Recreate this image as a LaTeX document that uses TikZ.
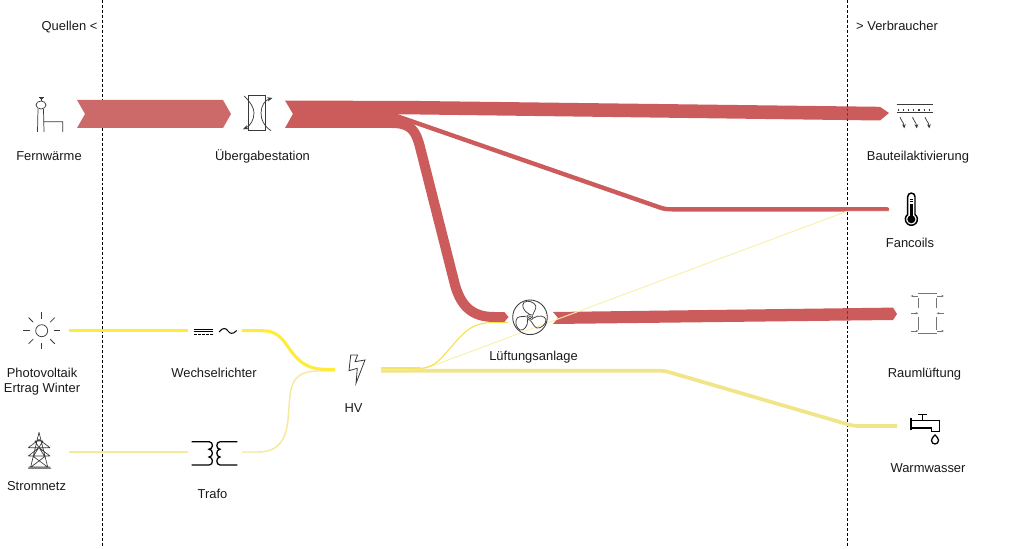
\documentclass[tikz,border=0pt]{standalone}
\usepackage{fontspec}
\setmainfont{Liberation Sans}
\usetikzlibrary{arrows.meta,calc}
\definecolor{heatA}{HTML}{CC6A6A}
\definecolor{heatB}{HTML}{CC5C5C}
\definecolor{heatC}{HTML}{BF3333}
\definecolor{sunY}{HTML}{FFEC3A}
\definecolor{gridY}{HTML}{F5EA9C}
\definecolor{mixY}{HTML}{F1E58A}
\definecolor{thinY}{HTML}{F6E04E}
\definecolor{faintY}{HTML}{F9F0A8}
\definecolor{icon}{HTML}{3A3A3A}
\tikzset{
  lbl/.style={font=\fontsize{9.7pt}{11.25pt}\selectfont,text=black!90,align=center,inner sep=0pt},
  lblb/.style={lbl,anchor=base},
  border/.style={draw=black,line width=0.7pt,dash pattern=on 2.2pt off 1.5pt},
  icn/.style={draw=icon,line width=0.55pt,line join=miter},
  icb/.style={draw=black,line width=0.95pt},
  flowline/.style={line cap=butt,line join=round}
}
\begin{document}
\begin{tikzpicture}[x=0.75pt,y=-0.75pt]
\useasboundingbox (0,0) rectangle (1024,549);

% coordinates
\coordinate (bq1) at (102.5,0); \coordinate (bq2) at (102.5,547);
\coordinate (bv1) at (847,0); \coordinate (bv2) at (847,547);
\coordinate (pvout) at (69,330.7); \coordinate (wrin) at (188,330.7);
\coordinate (wrout) at (242,330.7); \coordinate (hvin) at (335,369.3);
\coordinate (snout) at (69,452); \coordinate (trin) at (188,452);
\coordinate (trout) at (242,452); \coordinate (hvin2) at (335,371);
\coordinate (hvout) at (381,370.7); \coordinate (wwin) at (897,426);
\coordinate (lfin) at (508,322.6); \coordinate (fcin) at (889,211.3);
\coordinate (ubout) at (392,123); \coordinate (lfheat) at (503,317);
\coordinate (ubout2) at (395,115.5); \coordinate (fcheat) at (887,209.3);

\draw[border] (bq1) -- (bq2);
\draw[border] (bv1) -- (bv2);

% heat bands
\fill[heatA] (77,100) -- (223,100) -- (231,114) -- (223,128) -- (77,128) -- (85,114) -- cycle;
\fill[heatC,opacity=.8] (285,100.5) -- (420,101) -- (880,106.8) -- (889,113) -- (880,120.5) -- (420,114.5) -- (293,114) -- cycle;
\fill[heatB] (293,113.8) -- (396,113.8) -- (396,128) -- (285,128) -- cycle;
\draw[heatB,line width=7.5pt,flowline] (ubout) .. controls (412,123) and (416,132) .. (420,147) -- (455,285) .. controls (461,306) and (472,317) .. (494,317) -- (lfheat);
\fill[heatB] (500,312.2) -- (504.5,312.2) -- (508.5,317) -- (504.5,321.8) -- (500,321.8) -- cycle;
\draw[heatB,line width=3.3pt,line cap=round,line join=round] (ubout2) -- (657,206.5) .. controls (663,208.8) and (666,209.3) .. (672,209.3) -- (fcheat);
\fill[heatC,opacity=.8] (553,312) -- (893,307.6) -- (897,314) -- (893,320) -- (553,324) -- (558,318) -- cycle;

% yellow flows
\draw[gridY,line width=1.1pt] (snout) -- (trin);
\draw[gridY,line width=1.1pt] (trout) -- (258,452) .. controls (280,452) and (286,438) .. (288,420) -- (290,395) .. controls (292,378) and (300,371) .. (318,371) -- (hvin2);
\draw[sunY,line width=2.3pt] (pvout) -- (wrin);
\draw[sunY,line width=2.3pt] (wrout) -- (262,330.7) .. controls (282,330.7) and (285,345) .. (295,356) .. controls (303,365) and (312,369.3) .. (325,369.3) -- (hvin);
\draw[mixY,line width=2.8pt,line join=round] (hvout) -- (660,370.7) .. controls (664,370.7) and (667,371.5) .. (672,373) -- (845,423.5) .. controls (851,425.5) and (855,426) .. (860,426) -- (wwin);
\fill[mixY] (381,367) -- (420,367) -- (420,372) -- (381,372) -- (383,369.5) -- cycle;
\draw[faintY,line width=0.7pt] (hvout) ++(0,-1.5) -- (418,369) .. controls (422,369) and (425,368.5) .. (430,366.7) -- (847,211.3) -- (fcin);
\draw[thinY,line width=0.8pt] (hvout) ++(0,-2.5) -- (420,368.2) .. controls (438,368.2) and (445,352) .. (463,334) .. controls (474,323.5) and (484,322.6) .. (495,322.6) -- (lfin);

% Fernwaerme icon
\draw[icn] (38.5,97) -- (43.5,97) (39.5,98.5) -- (42.5,98.5) (41,98.5) -- (41,101);
\draw[icn] (41,105) ellipse[x radius=5,y radius=4];
\draw[icn] (38,109) -- (37.5,132) (43.5,109) -- (44,132) (43.7,121.7) -- (62.7,121.7) -- (62.7,132);

% Uebergabe icon
\draw[icn] (248.3,95) rectangle (265.7,130.7);
\draw[icn,-{Stealth[length=4pt,width=3.2pt]}] (244.3,96) .. controls (251,103) and (254,108) .. (254,113) .. controls (254,120) and (250,126) .. (243,129.3);
\draw[icn,-{Stealth[length=4pt,width=3.2pt]}] (271,130.7) .. controls (264,126) and (261,120) .. (261,113) .. controls (261,106) and (265,100) .. (272.5,98);

% sun icon
\draw[icn] (41.7,330.7) circle[radius=6];
\foreach \a in {0,45,...,315}{
  \draw[icn] ($(41.7,330.7)+(\a:12)$) -- ($(41.7,330.7)+(\a:18.5)$);
}

% Wechselrichter icon
\draw[icb,line width=0.65pt] (194.3,329.3) -- (213.3,329.3) (194.3,331.7) -- (213.3,331.7);
\draw[icb,line width=0.65pt,dash pattern=on 2.2pt off 0.8pt] (194.3,334) -- (213.3,334);
\draw[icb,line width=0.75pt] (219,332) .. controls (223,327) and (226,328) .. (228,331) .. controls (230,334) and (233,334.5) .. (236.7,330.5);

% Trafo icon
\draw[icb] (191.7,441.7) -- (209.3,441.7) .. controls (213.5,442) and (213.5,449.2) .. (209,449.2) .. controls (213.5,449.2) and (213.5,457) .. (209,457) .. controls (213.5,457) and (213.5,465) .. (209.3,465) -- (191.7,465);
\draw[icb] (237.3,441.7) -- (220,441.7) .. controls (215.8,442) and (215.8,449.2) .. (220,449.2) .. controls (215.8,449.2) and (215.8,457) .. (220,457) .. controls (215.8,457) and (215.8,465) .. (220,465) -- (237.3,465);

% Pylon icon
\draw[icn,line width=0.5pt] (39,432.3) -- (30.7,467) (39,432.3) -- (47.7,467) (28,468.3) -- (51,468.3) (28.5,467) -- (50,467)
 (28.3,447.7) -- (50,447.7) (28.3,447.7) -- (39,439.5) -- (50,447.7)
 (28.3,456) -- (50,456) (28.3,456) -- (39,447.7) -- (50,456)
 (34.8,441) -- (43,441) (34.8,441) -- (44.5,456) (43,441) -- (33.5,456)
 (32.8,456) -- (47.5,467) (45.5,456) -- (31,467);

% HV bolt
\draw[icn,line width=0.6pt] (350.7,355) -- (357.6,355) -- (355,361.7) -- (365,360) -- (356,383.3) -- (357.3,368.3) -- (349,370.7) -- cycle;

% Fan
\draw[icn,line width=0.65pt] (530,317.3) circle[radius=17.3];
\draw[icn,line width=0.45pt] (530,317.3) circle[radius=1.6] (530,317.3) circle[radius=3];
\foreach \r in {-12,108,228}{
  \begin{scope}[shift={(530,317.3)},rotate=\r,scale=1.12]
    \draw[icn,line width=0.55pt] (-1,-2.5) .. controls (-7,-4) and (-10,-9) .. (-8,-12) .. controls (-5,-15) and (1,-14) .. (3,-11) .. controls (4,-8) and (2,-5) .. (2,-2.5);
  \end{scope}
}

% Bauteil icon
\draw[icn] (896.7,104.3) -- (933.3,104.3) (896.7,112.7) -- (933.3,112.7);
\draw[icn,line width=0.8pt,dash pattern=on 0.9pt off 3pt] (897.5,110) -- (933.3,110);
\foreach \xx in {900,912.5,925}{
  \draw[icn,-{Stealth[length=3pt,width=2.8pt]}] (\xx,117.3) .. controls (\xx+0.5,121) and (\xx+3.5,121) .. (\xx+4.3,128.3);
}

% Thermometer
\draw[black,line width=1.1pt] (907.7,214.5) -- (907.7,196.7) arc[start angle=180,end angle=360,radius=3.65] -- (915,214.5) arc[start angle=-52.5,end angle=232.5,radius=6] -- cycle;
\fill[black] (911.35,219.3) circle[radius=4];
\fill[black] (910,205) rectangle (912.7,216);
\draw[black,line width=0.5pt] (909.5,199) -- (913,199) (909.5,201.5) -- (913,201.5) (909.5,204) -- (913,204);

% Raumlueftung icon
\tikzset{thinarr/.style={draw=icon!70,line width=0.35pt,-{Stealth[length=2pt,width=1.8pt]}}}
\draw[icn,draw=icon!70,line width=0.38pt] (918.3,293.3) -- (936.7,293.3) (918.3,333.3) -- (936.7,333.3)
 (918.3,298) -- (918.3,308) (918.3,316.7) -- (918.3,330)
 (936.7,298) -- (936.7,308) (936.7,316.7) -- (936.7,330);
\draw[thinarr] (918.3,296) -- (910.7,296);
\draw[thinarr] (936.7,296) -- (944,296);
\draw[thinarr] (910.7,313.3) -- (918.3,313.3);
\draw[thinarr] (944,313.3) -- (936.7,313.3);
\draw[thinarr] (910.7,331) -- (918.3,331);
\draw[thinarr] (936.7,331) -- (944,331);

% Tap icon
\draw[icb] (918.3,414.3) -- (927.3,414.3) (922.7,414.3) -- (922.7,420.7);
\draw[icb] (911,418) -- (911,430);
\draw[icb] (911,420.7) -- (939.3,420.7) -- (939.3,431.7) -- (931.7,431.7) -- (931.7,428) -- (911,428);
\draw[icb] (935,435) .. controls (932.5,437.5) and (931.5,439) .. (931.5,440.5) arc[start angle=180,end angle=0,radius=3.5] .. controls (938.5,439) and (937.5,437.5) .. (935,435) -- cycle;

% labels
\node[lblb] (quellen) at (69.5,31) {Quellen <};
\node[lblb] (verbr) at (897,31) {> Verbraucher};
\node[lblb] (fw) at (49,161) {Fernwärme};
\node[lblb] (ub) at (262.5,161) {Übergabestation};
\node[lblb] (ba) at (918,161) {Bauteilaktivierung};
\node[lblb] (fc) at (910,247) {Fancoils};
\node[lblb] (lf) at (533.5,360) {Lüftungsanlage};
\node[lblb] (rl) at (924.5,377) {Raumlüftung};
\node[lblb] (ww) at (928,472) {Warmwasser};
\node[lbl] (pv) at (42,381.5) {Photovoltaik\\Ertrag Winter};
\node[lblb] (wr) at (214,377) {Wechselrichter};
\node[lblb] (sn) at (36.5,490) {Stromnetz};
\node[lblb] (tr) at (212.5,498) {Trafo};
\node[lblb] (hv) at (353.5,412) {HV};
\end{tikzpicture}
\end{document}
